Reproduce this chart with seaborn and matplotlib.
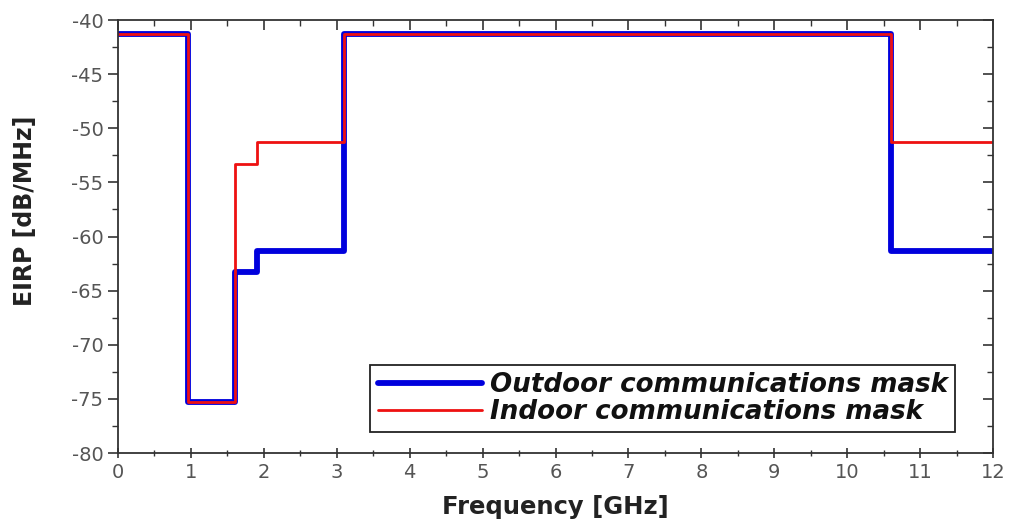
import matplotlib
matplotlib.use("Agg")
import matplotlib.pyplot as plt
import seaborn as sns
import pandas as pd
from matplotlib.ticker import MultipleLocator

freq_edges = [0, 0.96, 1.61, 1.9, 3.1, 10.6, 12]
outdoor_eirp = [-41.3, -75.3, -63.3, -61.3, -41.3, -61.3, -61.3]
indoor_eirp = [-41.3, -75.3, -53.3, -51.3, -41.3, -51.3, -51.3]
x_ticks = list(range(0, 13))
y_ticks = list(range(-80, -39, 5))

sns.set_theme(style="white")
plt.rcParams['font.family'] = ['DejaVu Sans']

df = pd.concat([
    pd.DataFrame({"f": freq_edges, "p": outdoor_eirp, "s": "Outdoor communications mask"}),
    pd.DataFrame({"f": freq_edges, "p": indoor_eirp, "s": "Indoor communications mask"}),
])

fig = plt.figure(figsize=(10.1, 5.22), dpi=100)
ax = fig.add_axes([118/1010, 1-453/522, 875/1010, 433/522])

sns.lineplot(data=df, x="f", y="p", hue="s", size="s",
             sizes={"Outdoor communications mask": 4.2, "Indoor communications mask": 2.0},
             palette={"Outdoor communications mask": "#0000dd", "Indoor communications mask": "#ee1111"},
             drawstyle="steps-post", estimator=None, sort=False, ax=ax, legend=True)

ax.set_xlim(0, 12)
ax.set_ylim(-80, -40)
ax.set_xticks(x_ticks)
ax.set_yticks(y_ticks)
ax.set_xticklabels([str(t) for t in x_ticks])
ax.set_yticklabels([str(t) for t in y_ticks])
ax.xaxis.set_minor_locator(MultipleLocator(0.5))
ax.yaxis.set_minor_locator(MultipleLocator(2.5))

for sp in ax.spines.values():
    sp.set_color("#333333")
    sp.set_linewidth(1.3)

ax.tick_params(axis="both", which="major", direction="out", length=7, width=1.2,
               labelsize=14, colors="#333333", labelcolor="#555555")
ax.tick_params(axis="both", which="minor", direction="out", length=4, width=1.0, colors="#333333")
ax.tick_params(which="both", bottom=True, left=True, top=True, right=True,
               labeltop=False, labelright=False)
ax.xaxis.set_tick_params(which="both", direction="inout")
for t in ax.xaxis.get_major_ticks() + ax.xaxis.get_minor_ticks():
    t.tick2line.set_marker(3)
for t in ax.yaxis.get_major_ticks() + ax.yaxis.get_minor_ticks():
    t.tick2line.set_marker(0)

ax.set_xlabel("Frequency [GHz]", fontsize=17.5, fontweight="bold", color="#222222")
ax.set_ylabel("EIRP [dB/MHz]", fontsize=17, fontweight="bold", color="#222222")
ax.xaxis.set_label_coords(0.5, -0.098)
ax.yaxis.set_label_coords(-0.093, 0.56)

handles, labels = ax.get_legend_handles_labels()
leg = ax.legend(handles, labels, loc="lower right", bbox_to_anchor=(0.957, 0.048),
                borderaxespad=0,
                frameon=True, fancybox=False, edgecolor="#222222", framealpha=1,
                prop={"size": 18.8, "style": "italic", "weight": "bold"},
                handlelength=4.0, handletextpad=0.3, borderpad=0.28, labelspacing=0.02)
leg.get_frame().set_linewidth(1.3)
for txt in leg.get_texts():
    txt.set_color("#111111")

fig.savefig("out.png", dpi=100)
